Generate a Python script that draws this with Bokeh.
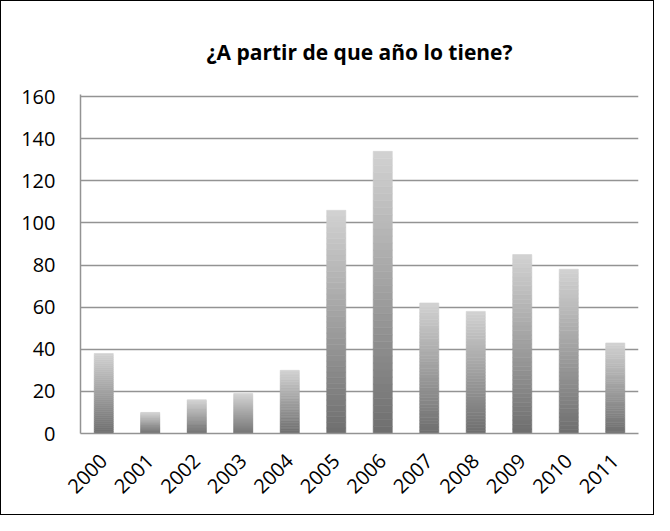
import math
from bokeh.plotting import figure
from bokeh.models import ColumnDataSource, FactorRange, Range1d, FixedTicker
from bokeh.embed import file_html
from bokeh.resources import INLINE

# ---- data ----
years = ["2000", "2001", "2002", "2003", "2004", "2005",
         "2006", "2007", "2008", "2009", "2010", "2011"]
counts = [38, 10, 16, 19, 30, 106, 134, 62, 58, 85, 78, 43]
y_ticks = [0, 20, 40, 60, 80, 100, 120, 140, 160]
title_text = "¿A partir de que año lo tiene?"

# ---- gradient slices built from the values ----
dark = (0x6e, 0x6e, 0x6e)
light = (0xd2, 0xd2, 0xd2)
N = 40
xs, bs, ts, cs = [], [], [], []
for yr, v in zip(years, counts):
    for k in range(N):
        f = (k + 0.5) / N
        col = tuple(int(round(d + (l - d) * f)) for d, l in zip(dark, light))
        xs.append(yr)
        bs.append(v * k / N)
        ts.append(v * (k + 1) / N)
        cs.append("#%02x%02x%02x" % col)
src = ColumnDataSource(dict(x=xs, b=bs, t=ts, c=cs))

p = figure(x_range=FactorRange(*years), y_range=Range1d(0, 161),
           width=654, height=515, output_backend="svg", toolbar_location=None,
           min_border_left=79, min_border_right=17,
           min_border_top=93, min_border_bottom=83)
p.styles = {"border": "1.5px solid black", "box-sizing": "border-box"}

p.vbar(x="x", bottom="b", top="t", width=0.41, source=src,
       fill_color="c", line_color="c", line_width=0.6)

p.title.text = title_text
p.title.align = "center"
p.title.text_font = "Open Sans"
p.title.text_font_size = "21px"
p.title.text_font_style = "bold"
p.title.text_color = "black"
p.title.standoff = 57

p.outline_line_color = None
p.xgrid.grid_line_color = None
p.ygrid.grid_line_color = "#939393"
p.ygrid.grid_line_width = 1.5
p.yaxis.ticker = FixedTicker(ticks=y_ticks)
p.yaxis.minor_tick_line_color = None

for ax in (p.xaxis[0], p.yaxis[0]):
    ax.axis_line_color = "#939393"
    ax.axis_line_width = 1.5
    ax.major_tick_out = 0
    ax.major_tick_in = 0
    ax.major_label_text_font = "Open Sans"
    ax.major_label_text_font_size = "20px"
    ax.major_label_text_color = "black"

p.yaxis.major_label_standoff = 25
p.xaxis.major_label_standoff = 24
p.xaxis.major_label_orientation = math.pi / 4

open("out.html", "w").write(file_html(p, INLINE))
